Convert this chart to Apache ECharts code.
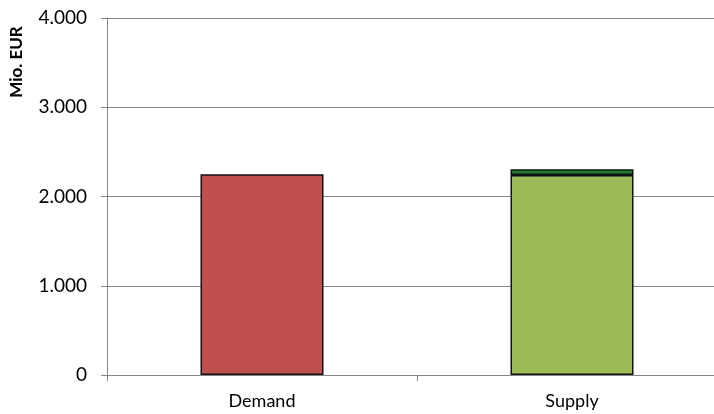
<!DOCTYPE html>
<html>
<head>
<meta charset="utf-8">
<script src="https://cdn.jsdelivr.net/npm/echarts@6/dist/echarts.min.js"></script>
<style>
  html, body { margin: 0; padding: 0; background: #fff; overflow: hidden; }
  /* The plot area runs slightly past the right edge of the window */
  #chart { width: 727px; height: 414px; }
</style>
</head>
<body>
<div id="chart"></div>
<script>
// Categories and values (Mio. EUR)
const categories = ['Demand', 'Supply'];
const demandValues = [2250, '-'];
const supplyBaseValues = ['-', 2240];
const supplyTopValues = ['-', 65];
const yTicks = { min: 0, max: 4000, interval: 1000 };

const fontFamily = 'Lato, "Liberation Sans", sans-serif';
const axisGrey = '#868686';

function fmt(v) {
  return String(v).replace(/\B(?=(\d{3})+(?!\d))/g, '.');
}

const chart = echarts.init(document.getElementById('chart'), null, { renderer: 'canvas' });

const barBase = {
  type: 'bar',
  stack: 'total',
  barWidth: 123,
  itemStyle: { borderColor: '#111', borderWidth: 1.5 }
};

chart.setOption({
  animation: false,
  backgroundColor: '#fff',
  grid: { left: 107, top: 18, right: 0, bottom: 39, containLabel: false },
  xAxis: {
    type: 'category',
    data: categories,
    axisLine: { lineStyle: { color: axisGrey, width: 1 } },
    axisTick: { show: true, length: 6, lineStyle: { color: axisGrey } },
    axisLabel: { color: '#000', fontFamily: fontFamily, fontSize: 18, margin: 17 }
  },
  yAxis: {
    type: 'value',
    min: yTicks.min,
    max: yTicks.max,
    interval: yTicks.interval,
    axisLine: { show: true, lineStyle: { color: axisGrey, width: 1 } },
    axisTick: { show: true, length: 6, lineStyle: { color: axisGrey } },
    splitLine: { lineStyle: { color: axisGrey, width: 1 } },
    axisLabel: { color: '#000', fontFamily: fontFamily, fontSize: 19, margin: 20, formatter: fmt }
  },
  graphic: [{
    type: 'text',
    x: 17,
    y: 62,
    rotation: Math.PI / 2,
    style: {
      text: 'Mio. EUR',
      fontFamily: fontFamily,
      fontSize: 17,
      fontWeight: 'bold',
      fill: '#000',
      align: 'center',
      verticalAlign: 'middle'
    }
  }],
  series: [
    Object.assign({}, barBase, { name: 'Demand', data: demandValues, itemStyle: Object.assign({}, barBase.itemStyle, { color: '#C0504D' }) }),
    Object.assign({}, barBase, { name: 'Supply', data: supplyBaseValues, itemStyle: Object.assign({}, barBase.itemStyle, { color: '#9BBB59' }) }),
    Object.assign({}, barBase, { name: 'Supply (additional)', data: supplyTopValues, itemStyle: Object.assign({}, barBase.itemStyle, { color: '#1F7A2E' }) })
  ]
});
</script>
</body>
</html>
